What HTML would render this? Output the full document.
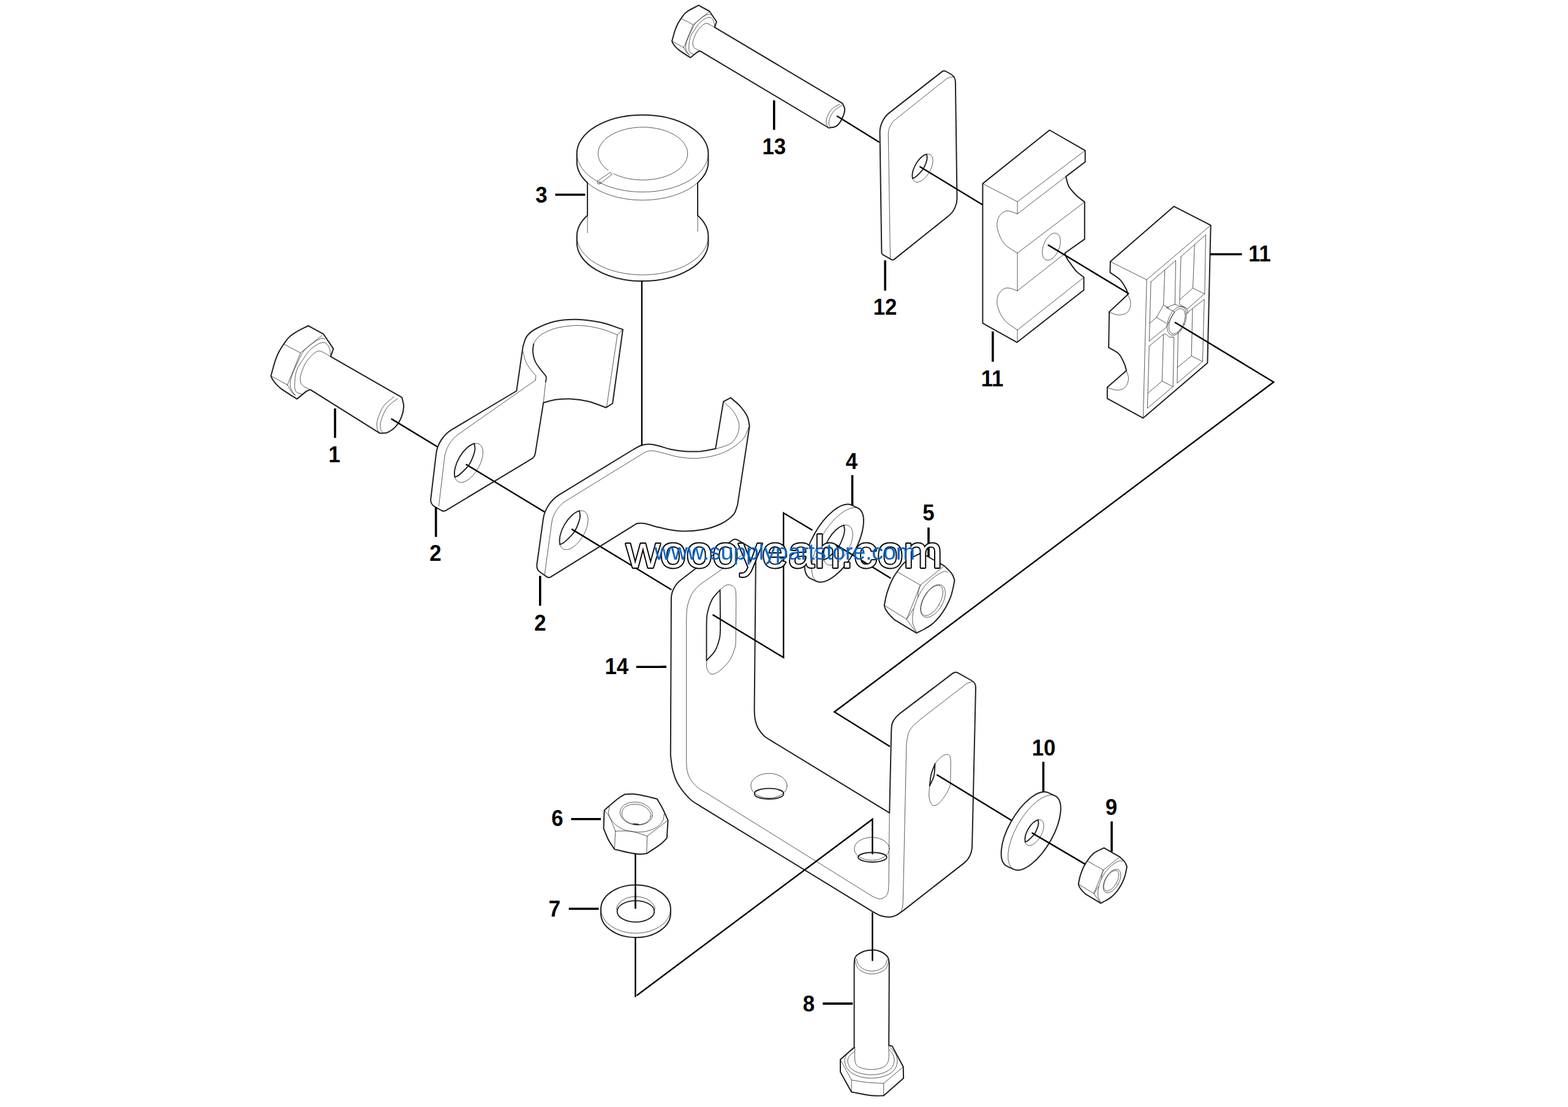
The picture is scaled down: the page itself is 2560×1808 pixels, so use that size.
<!DOCTYPE html>
<html lang="en"><head><meta charset="utf-8"><title>Parts diagram</title>
<style>
html,body{margin:0;padding:0;background:#fff}
body{width:2560px;height:1808px;overflow:hidden}
svg{display:block}
.o{fill:#ffffff;stroke:#231f20;stroke-width:2;stroke-linejoin:round;stroke-linecap:round}
.k{fill:none;stroke:#231f20;stroke-width:1.9;stroke-linejoin:round;stroke-linecap:round}
.t{fill:none;stroke:#231f20;stroke-width:.75;stroke-linejoin:round;stroke-linecap:round}
.c{fill:none;stroke:#000;stroke-width:2.4;stroke-linejoin:miter;stroke-linecap:round}
.l{fill:none;stroke:#000;stroke-width:3.6;stroke-linecap:butt}
.n{font-family:"Liberation Sans",Arial,Helvetica,sans-serif;font-weight:700;font-size:37px;text-anchor:middle;fill:#000}
.w{font-family:"Liberation Sans",Arial,Helvetica,sans-serif;font-size:75px;fill:#fff;stroke:#000;stroke-width:3.8px;stroke-linejoin:round;paint-order:stroke fill}
.u{font-family:"Liberation Sans",Arial,Helvetica,sans-serif;font-size:37.33px;fill:#0563c1}
</style></head>
<body>
<svg width="2560" height="1808" viewBox="0 0 2560 1808">
<rect width="2560" height="1808" fill="#fff"/>
<g id="parts">
<path class="o" d="M941.8 250.7 A107.3 62.9 0 0 1 1156.4 250.7L1156.4 264.3 A107.3 62.9 0 0 1 1139 298.5L1139.1 351.8L1139 351.8 A107.3 62.9 0 0 1 1156.4 386.1L1156.4 396.2 A107.3 62.9 0 0 1 941.8 396.2L941.8 386.1 A107.3 62.9 0 0 1 959.1 351.8L959.1 298.5L959.1 298.5 A107.3 62.9 0 0 1 941.8 264.3Z"/>
<path class="t" d="M1156.4 250.7 A107.3 62.9 0 0 1 941.8 250.7"/>
<path class="t" d="M1139 298.5 A107.3 62.9 0 0 1 959.1 298.5"/>
<path class="t" d="M1156.4 386.1 A107.3 62.9 0 0 1 941.8 386.1"/>
<path class="t" d="M959.1 351.8L959.1 380.2"/>
<path class="t" d="M1139.1 351.8L1139.1 377.7"/>
<path class="t" d="M993 278.4 A73.2 43.2 0 1 1 1002 283.8"/>
<path class="t" d="M996.5 281.5L975.6 295.6L976.1 300.5L979.5 300L979.5 296.3"/>
<path class="t" d="M979.5 300L999.3 284.7"/>
<path class="t" d="M996.5 281.5L999.3 284.7"/>
<path class="o" d="M1143.1 83.3L1138.5 85L1127.4 94.1C1121.6 90.4 1115.6 86.9 1110 82.9C1107.7 81.3 1105.6 79.4 1103.7 77.4C1102 75.6 1100.5 73.8 1099.2 71.8C1098.3 70.4 1097.8 68.8 1097.1 67.2C1098.1 63.4 1099.1 59.6 1100.2 55.7C1100.9 53.4 1101.4 51.1 1102.3 48.8C1103.5 45.5 1104.9 42.2 1106.5 39C1108.1 35.9 1110.2 33 1112.1 30C1113.9 27.5 1115.5 24.8 1117.6 22.6C1119.7 20.5 1122.1 18.6 1124.6 17.1C1129.8 13.9 1135.3 11.5 1140.6 8.7L1158.4 18.5L1169.9 35.5L1166.8 44.6L1375.5 168.9C1376.7 172.2 1379.4 175.2 1379.2 178.7C1378.9 184.3 1376.8 189.8 1374.3 194.7C1372.2 198.9 1369.5 203.2 1365.6 205.8C1362.1 208.2 1357.4 208 1353.3 209L1143.1 83.3Z"/>
<path class="t" d="M1112.1 30L1131.6 40.4L1156.7 19.9"/>
<path class="t" d="M1131.6 40.4L1116.2 77.7"/>
<path class="t" d="M1097.1 67.2L1116.2 77.7"/>
<path class="t" d="M1116.2 77.7C1117.9 80.4 1119.3 83.2 1121.1 85.7C1122.3 87.3 1123.9 88.5 1125.3 89.9"/>
<path class="t" d="M1160.1 24.4C1159 24 1157.8 23.1 1156.7 23.3C1153.7 24 1150.8 25.4 1148.3 27.2C1143.8 30.2 1139.3 33.5 1135.7 37.6C1132.7 41.3 1130.9 45.9 1128.8 50.2C1126.2 55.4 1123.8 60.7 1121.8 66.2C1120.6 69.6 1119.5 73.1 1119.4 76.7C1119.3 79 1120.1 81.4 1121.1 83.6C1122.1 85.9 1123.9 87.8 1125.3 89.9"/>
<path class="t" d="M1166.4 43.2C1166.2 40.9 1166.4 38.5 1165.7 36.2C1165 34 1163.9 31.7 1162.2 30C1161.1 28.8 1159.3 28 1157.7 28.2C1154.8 28.5 1152.1 29.9 1149.7 31.4C1146.6 33.3 1143.8 35.7 1141.3 38.3C1138.6 41.3 1136.5 44.7 1134.4 48.1C1131.9 51.9 1129 55.6 1127.4 59.9C1125.8 64.1 1125.2 68.7 1124.9 73.2C1124.7 77.1 1124.2 81.5 1126 85C1127.2 87.3 1130.6 87.3 1133 88.5"/>
<path class="t" d="M1166.4 44.6C1162.9 42.6 1159.6 40.3 1156 38.7C1154.7 38.1 1153.1 37.9 1151.8 38.3C1149.7 39 1147.8 40.3 1146.2 41.8C1143.1 44.8 1140.1 47.9 1137.8 51.6C1135.7 55 1134.4 58.9 1133 62.7C1132.1 65 1131.2 67.3 1131.2 69.7C1131.2 72.3 1131.3 75.4 1133 77.4C1135.4 80.3 1139.5 81.3 1142.7 83.3"/>
<path class="t" d="M1371.1 170.1C1366.8 172.7 1361.8 174.4 1358.2 178C1354.9 181.4 1352.7 185.9 1350.8 190.3C1349.5 193.6 1348.6 197.3 1348.9 200.9C1349.1 203.7 1351.2 206 1352.3 208.6"/>
<path class="t" d="M1374.3 172.1C1370.4 174.7 1365.9 176.6 1362.7 180C1359.3 183.5 1356.9 187.8 1355 192.3C1353.7 195.5 1353 199.1 1353.3 202.6C1353.5 204.8 1355.3 206.4 1356.3 208.3"/>
<path class="o" d="M506.7 636.4L500.4 638.9L484.8 651.6C476.7 646.4 468.3 641.5 460.4 635.9C457.2 633.7 454.3 631 451.6 628.1C449.3 625.7 447.1 623.1 445.3 620.3C444 618.4 443.3 616.1 442.3 614C443.8 608.6 445.2 603.3 446.7 597.9C447.7 594.6 448.5 591.3 449.7 588.1C451.4 583.5 453.2 578.9 455.5 574.5C457.8 570.1 460.7 566 463.3 561.8C465.9 558.4 468.1 554.6 471.1 551.6C474 548.6 477.3 545.9 480.9 543.8C488.1 539.4 495.8 535.9 503.3 532L528.2 545.7L544.3 569.6L539.9 582.3L656.2 649.1C657.2 654.1 659.2 658.9 659.1 663.9C659 669.8 657.6 675.7 655.4 681.2C653.1 687 649.8 692.6 645.6 697.2C641.8 701.3 637.1 704.5 632 706.6C628.3 708.1 624.1 707.2 620.2 707.6L506.7 636.4Z"/>
<path class="t" d="M463.3 561.8L490.6 576.4L525.8 547.7"/>
<path class="t" d="M490.6 576.4L469.2 628.6"/>
<path class="t" d="M442.3 614L469.2 628.6"/>
<path class="t" d="M469.2 628.6C471.5 632.4 473.4 636.3 476 639.9C477.7 642.1 479.9 643.8 481.9 645.7"/>
<path class="t" d="M530.6 554C529 553.5 527.4 552.1 525.8 552.5C521.6 553.5 517.6 555.5 514.1 557.9C507.8 562.2 501.4 566.7 496.5 572.5C492.2 577.6 489.7 584.1 486.7 590.1C483.2 597.4 479.7 604.8 477 612.5C475.3 617.3 473.8 622.2 473.6 627.2C473.4 630.5 474.6 633.9 476 636.9C477.4 640.1 479.9 642.8 481.9 645.7"/>
<path class="t" d="M539.4 580.3C539.1 577.1 539.4 573.7 538.4 570.6C537.4 567.4 535.9 564.2 533.6 561.8C532 560.2 529.5 559.1 527.2 559.4C523.2 559.8 519.4 561.6 516 563.8C511.7 566.4 507.7 569.8 504.3 573.5C500.5 577.6 497.6 582.5 494.5 587.2C491.1 592.6 487 597.7 484.8 603.8C482.6 609.6 481.7 616 481.4 622.3C481.1 627.8 480.3 634 482.8 638.9C484.5 642.1 489.3 642.1 492.6 643.8"/>
<path class="t" d="M539.4 582.3C534.5 579.5 529.9 576.2 524.8 574C523 573.2 520.8 572.9 518.9 573.5C516 574.4 513.4 576.3 511.1 578.4C506.8 582.5 502.6 587 499.4 592C496.4 596.8 494.5 602.3 492.6 607.7C491.4 610.8 490.2 614.1 490.2 617.4C490.2 621.1 490.2 625.3 492.6 628.1C496 632.2 501.7 633.7 506.2 636.4"/>
<path class="t" d="M643.1 647.9C637.3 653.3 630.3 657.5 625.8 663.9C621 670.9 618.2 679.2 616 687.4C614.8 691.7 615.1 696.5 616 700.9C616.5 703.5 618.8 705.3 620.2 707.6"/>
<path class="t" d="M649.3 650.9C643.5 655.8 636.5 659.5 632 665.7C627.1 672.4 624 680.5 621.7 688.6C620.4 692.8 620.7 697.4 621.7 701.7C622.2 703.9 624.4 705.3 625.8 707.1"/>
<path class="o" d="M1544.2 116.5L1552.2 121C1556.7 123.6 1559.8 128.7 1559.9 133.9L1562.5 324.2C1562.6 334.5 1557.3 345.8 1549.2 352.2L1460.2 423.4C1458.9 424.5 1456.9 424.7 1455.4 423.8L1441.6 416.1C1440.3 415.4 1439.4 413.9 1439.4 412.4L1436.5 216.2C1436.4 204.4 1442.5 191.6 1451.8 184.4L1538.1 116.9C1539.8 115.6 1542.3 115.4 1544.2 116.5Z"/>
<path class="t" d="M1558.3 125.3L1551.1 126.4C1548.9 126.7 1546.3 127.9 1544.5 129.3L1461.6 195.4C1454.7 200.9 1450.1 210.5 1450.3 219.4L1453.5 422.8"/>
<path class="k" d="M1512.9 251.9 A12.8 25.5 29.6 0 0 1490 291.3"/>
<path class="t" d="M1512.9 251.9 A12.8 25.5 29.6 1 1 1490 291.3"/>
<path class="k" d="M1512.9 251.9C1513.2 254 1513.8 256 1513.7 258.1C1513.5 260.6 1512.9 263 1512.1 265.3C1510.7 269.2 1509.2 273.1 1506.9 276.5C1504.7 279.8 1501.7 282.5 1498.9 285.3C1497.3 286.9 1495.6 288.4 1493.7 289.7C1492.6 290.5 1491.3 290.8 1490 291.3"/>
<path class="o" d="M1604.4 299.9L1713.6 212.5L1771.7 245.8L1771.7 264.5L1740.2 288.4C1741.8 293.8 1742.4 299.6 1745.1 304.5C1748.3 310.1 1752.9 314.7 1757.5 319.3C1761.5 323.3 1766.3 326.4 1770.8 329.9L1770.8 390.6L1738.7 413.3C1739.5 415.7 1740 418.4 1741.2 420.7C1743.3 424.6 1745.9 428.2 1748.6 431.7C1751.7 436 1754.7 440.4 1758.4 444.1C1761.8 447.4 1765.8 449.8 1769.5 452.7L1769.5 473.7L1660.3 559.2L1604.4 527.9L1604.4 299.9Z"/>
<path class="t" d="M1604.4 299.9L1661.1 329.4L1771.7 245.8"/>
<path class="t" d="M1661.1 329.4L1661.1 349.2"/>
<path class="t" d="M1661.1 349.2L1740.2 288.4"/>
<path class="t" d="M1661.1 349.2C1654.9 347.7 1648.8 343.5 1642.6 344.7C1637.3 345.8 1632.6 350.4 1630.3 355.3C1627.6 360.9 1627.2 367.8 1628.5 373.8C1630.6 382.7 1634.3 391.5 1640.1 398.5C1645.6 405.1 1654.1 408.3 1661.1 413.3"/>
<path class="t" d="M1661.1 413.3L1770.8 329.9"/>
<path class="t" d="M1661.1 413.3L1661.1 474.9"/>
<path class="t" d="M1661.1 474.9L1738.7 414"/>
<path class="t" d="M1661.1 474.9C1654.9 473.4 1648.8 469.2 1642.6 470.5C1637.3 471.5 1632.6 476.2 1630.3 481.1C1627.6 486.6 1627.1 493.5 1628.5 499.5C1630.5 508 1634.6 516.2 1640.1 523C1645.7 529.7 1654.1 533.6 1661.1 539"/>
<path class="t" d="M1661.1 539L1769.5 453.2"/>
<path class="t" d="M1661.1 539L1661.1 558.7"/>
<path class="t" d="M1728.4 407.7 A12.8 22.2 22 1 1 1704.7 398.1 A12.8 22.2 22 1 1 1728.4 407.7Z"/>
<path class="o" d="M1916.7 337.1L1976.7 367.9L1971.4 592.7L1866.4 682.8L1807.8 650.9L1807.8 632.6L1839.1 605.3C1837.9 601.5 1837.3 597.5 1835.6 593.8C1833.1 588.3 1830.8 582.3 1826.5 577.9C1822 573.2 1815.6 571 1810.1 567.6L1811 509.4L1841.3 480.9C1840.6 478.2 1840.3 475.4 1839.1 472.9C1836.1 467.3 1833.2 461.5 1828.8 456.9C1824.1 452 1817.8 449 1812.4 445.1L1812.8 427.3L1916.7 337.1Z"/>
<path class="t" d="M1812.8 427.3L1872.2 456.9L1976.7 367.9"/>
<path class="t" d="M1872.2 456.9L1866.4 682.8"/>
<path class="t" d="M1841.3 480.9C1842.9 485.1 1845.9 489 1845.9 493.4C1845.9 499 1845.1 505.3 1841.3 509.4C1837.8 513.2 1831.7 514.4 1826.5 514.4C1821.1 514.5 1816.2 511.4 1811 509.9"/>
<path class="t" d="M1839.1 605.3C1840.2 609.8 1842.9 614.3 1842.5 619C1842.1 623.9 1840.3 629.1 1836.8 632.6C1833.6 635.8 1828.7 637.1 1824.2 637.2C1818.7 637.3 1813.6 634.5 1808.3 633.1"/>
<path class="t" d="M1879 460.3L1919.6 425.4L1918.3 496.9L1904.1 502.6L1917.8 509.4L1908.7 525.4L1904.1 534.5L1876.3 557.3L1879 460.3Z"/>
<path class="t" d="M1901.8 440.9L1899.5 498.5L1888.1 518.5L1904.1 527.7"/>
<path class="t" d="M1888.1 518.5L1876.7 528.1"/>
<path class="t" d="M1899.5 498.5L1908.7 503.2"/>
<path class="t" d="M1928.1 419.3L1968.5 383.4L1966.9 479.7L1938.3 504.8L1925.8 496.9L1928.1 419.3Z"/>
<path class="t" d="M1950.4 399.9L1947.5 470.6L1966.9 480.2"/>
<path class="t" d="M1947.5 470.6L1926.2 489.3"/>
<path class="t" d="M1936.1 512.8L1947 503.7L1966.2 488.9L1963.4 590.4L1921.9 625.8L1923.5 542.5L1929.2 536.8"/>
<path class="t" d="M1947 504.4L1945.2 581.3L1963.4 590.4"/>
<path class="t" d="M1945.2 581.3L1922.4 600.2"/>
<path class="t" d="M1876.3 565.3L1899.5 545.9L1904.1 545.9L1908.7 550.5L1916.7 550.5L1915.1 631.5L1873.3 666.9L1876.3 565.3Z"/>
<path class="t" d="M1899.5 547.1L1897.3 622.4L1915.1 631.5"/>
<path class="t" d="M1897.3 622.4L1874.4 641.8"/>
<path class="t" d="M1933.9 529.4 A13.7 24.6 22 1 1 1908.5 519.1 A13.7 24.6 22 1 1 1933.9 529.4Z"/>
<path class="t" d="M1932.3 529 A11.4 21.7 22 1 1 1911.1 520.4 A11.4 21.7 22 1 1 1932.3 529Z"/>
<path class="t" d="M1917.8 496.9C1920.8 498 1923.8 499.3 1926.9 500.3C1929.9 501.2 1933.7 500.5 1936.1 502.6C1938.5 504.8 1938.3 508.7 1939.5 511.7"/>
<path class="o" d="M737.4 701.9L843.3 638.5L853.9 565.3C856 560 856.7 553.9 860.1 549.3C863.9 544.1 869.2 540 874.9 537C885 531.6 895.8 527.2 906.9 524.7C918.2 522.1 929.9 521.4 941.4 521.7C954.7 522 967.9 523.8 980.9 526.6C993.2 529.3 1004.9 534.3 1016.9 538.2L1000.1 659L989.5 665.7C980.1 662.4 970.9 658.2 961.2 655.8C951.5 653.5 941.5 652.2 931.6 651.6C923.4 651.2 915.1 651.7 906.9 652.8C900.2 653.8 893.8 656.1 887.2 657.8L873.9 740.4C873.3 744.1 870.8 747.8 867.6 749.7L727.7 833.9C725.8 835 723.2 835 721.3 834L709.9 827.6C705.3 825.1 702.7 820 703.3 814.9L712.1 740.9C713.9 725.5 724 709.9 737.4 701.9Z"/>
<path class="t" d="M716.4 826.6L725.9 746.4C727.6 732.4 736.4 717.7 747.9 709.6L874.4 620.8"/>
<path class="t" d="M853.9 574C855.2 578.9 855.7 584.1 857.6 588.7C859.8 594 863 598.9 866.3 603.5C868.8 607.1 872 610.1 874.9 613.4L874.4 620.8"/>
<path class="k" d="M871.2 561.6C870.8 565.7 869.6 569.8 870 574C870.4 579.4 871.4 585 873.7 590C876 595.4 880.1 599.9 883.5 604.8C886.1 608.4 890 611.2 891.7 615.4C892.6 617.8 891.2 620.6 890.9 623.3"/>
<path class="t" d="M890.9 623.3L887.2 657.8"/>
<path class="t" d="M871.2 561.6C873.7 557.9 875.3 553.6 878.6 550.5C882.5 546.9 887.3 544.2 892.1 541.9C898.5 539 905 536.3 911.9 535C923.2 532.8 934.8 531.2 946.4 531.6C958 531.9 969.6 534.2 980.9 537C990.2 539.3 999 543.6 1008 546.8L990.3 665.2"/>
<path class="t" d="M1008 546.8L1016.9 538.2"/>
<path class="k" d="M774.4 724.5 A17.7 35.4 29.6 0 0 742.6 779.3"/>
<path class="t" d="M774.4 724.5 A17.7 35.4 29.6 1 1 742.6 779.3"/>
<path class="k" d="M774.4 724.5C774.8 727.4 775.6 730.3 775.5 733.2C775.2 736.7 774.4 740 773.2 743.2C771.3 748.6 769.2 754 766 758.8C763 763.3 758.8 767.1 754.9 771C752.7 773.2 750.3 775.3 747.7 777.1C746.2 778.1 744.3 778.6 742.6 779.3"/>
<path class="o" d="M912.5 808.4L1035.1 733.5C1039.2 731.4 1043.1 728.7 1047.5 727.3C1051.4 726 1055.6 725.5 1059.8 725.6C1064.8 725.7 1069.7 726.9 1074.6 728C1081.2 729.6 1087.6 732.3 1094.3 733.7C1102.4 735.4 1110.7 736.6 1118.9 737.2C1127.1 737.7 1135.4 737.8 1143.6 737.2C1151.9 736.4 1160 734.4 1168.2 733L1181.1 655.8L1192.9 649.6C1197.8 654 1203.3 657.8 1207.7 662.7C1212.4 668 1216.9 673.6 1220 680C1222.4 684.9 1222.5 690.6 1223.7 696L1204 825.4C1201.9 830.3 1201.3 836.2 1197.8 840.2C1192.4 846.4 1185.5 851.3 1178.1 855C1168.8 859.6 1158.8 863 1148.5 864.8C1135.6 867.2 1122.2 868 1109.1 867.3C1097.4 866.7 1086 863.6 1074.6 861.1C1067.1 859.5 1059.9 856.3 1052.4 855C1048.3 854.3 1044.1 854.3 1040.1 855C1038.2 855.3 1036.8 856.9 1035.1 857.9L899 942.3C897.1 943.4 894.6 943.4 892.8 942.1L882.5 935C878.2 932.1 875.9 926.7 876.6 921.6L886.9 847.6C889 832.2 899.3 816.6 912.5 808.4Z"/>
<path class="t" d="M889.2 938.5L900.8 853.5C902.7 839.6 912 825.4 923.9 818.1L1045 743.6C1048.3 741.7 1051.3 739.2 1054.8 737.9C1058 736.7 1061.4 735.9 1064.7 736.2C1071.4 736.7 1077.9 738.8 1084.4 740.4C1092.7 742.3 1100.7 745.3 1109.1 746.5C1118.9 748 1128.8 749.1 1138.7 748.5C1149.5 747.8 1160.3 745.9 1170.7 742.8C1179.4 740.3 1187.8 736.6 1195.4 731.7C1202.7 727 1209.7 721.3 1215.1 714.5C1218.9 709.5 1220 703 1222.5 697.2"/>
<path class="t" d="M1181.8 656.5C1187.1 661.9 1193.5 666.3 1197.8 672.6C1201.9 678.5 1205.3 685.2 1206.5 692.3C1207.4 698 1206.3 704.2 1204 709.5C1201.6 715.2 1198 720.9 1192.9 724.3C1186 729 1177.3 730.1 1169.5 733"/>
<path class="k" d="M946 834.4 A17.7 35.4 29.6 0 0 914.2 889.2"/>
<path class="t" d="M946 834.4 A17.7 35.4 29.6 1 1 914.2 889.2"/>
<path class="k" d="M946 834.4C946.4 837.3 947.2 840.2 947.1 843.1C946.8 846.6 946 849.9 944.8 853.1C942.9 858.5 940.8 863.9 937.6 868.7C934.6 873.2 930.4 877 926.5 880.9C924.3 883.1 921.9 885.2 919.3 887C917.8 888 915.9 888.5 914.2 889.2"/>
<path class="o" d="M1110.6 948L1195.3 882.5C1197.8 880.5 1201.4 880.3 1204.2 881.9L1231.5 897.9C1233.1 898.8 1234.1 900.6 1234 902.3L1231.6 1160C1232 1164.9 1231.8 1169.9 1232.8 1174.8C1233.9 1179.9 1235.3 1185 1237.8 1189.6C1240.3 1194.2 1243.7 1198.4 1247.6 1201.9C1252 1205.9 1257.5 1208.5 1262.4 1211.8L1452.2 1327.6L1455.2 1194.5C1455.6 1190.5 1455.4 1186.3 1456.4 1182.4C1457.3 1179.3 1458.9 1176.3 1460.9 1173.8C1463.3 1170.5 1466.5 1167.9 1469.5 1165.1C1471 1163.7 1472.8 1162.7 1474.4 1161.4L1555.2 1099.9C1557.8 1097.9 1561.4 1097.6 1564.2 1099.2L1586.3 1111.5C1590.4 1113.8 1593.1 1118.4 1593 1123.2L1587.1 1383.5C1586.9 1393.1 1581.7 1403.5 1574.2 1409.4L1474.4 1487.4C1470.7 1489.8 1467.4 1492.9 1463.3 1494.8C1459.9 1496.4 1456.1 1497.6 1452.2 1497.7C1447.7 1497.9 1443 1497.1 1438.7 1495.8C1433.9 1494.2 1429.6 1491.3 1425.1 1489.1L1145.3 1317.8C1139.2 1313.7 1132.2 1310.6 1126.8 1305.4C1119.3 1298.1 1112.6 1289.8 1107.1 1280.8C1103 1274 1100.5 1266.3 1098.5 1258.6C1096.4 1250.6 1096 1242.2 1094.8 1234L1095.9 977.8C1096 966.7 1101.9 954.8 1110.6 948Z"/>
<path class="t" d="M1227.9 895.2L1154 947C1149 950.7 1143.5 953.7 1139.2 958.1C1134.8 962.4 1130.8 967.3 1128.1 972.8C1125 979 1123.2 985.8 1121.9 992.6C1120.7 999 1121.1 1005.7 1120.7 1012.3L1120.7 1246.3C1121.3 1251.2 1121 1256.3 1122.4 1261.1C1123.9 1266.3 1126.2 1271.4 1129.3 1275.9C1132.7 1280.6 1137.1 1284.6 1141.6 1288.2C1145.4 1291.2 1149.8 1293.1 1154 1295.6L1425.1 1464.4C1429.2 1465.7 1433.2 1468.8 1437.5 1468.1C1441.8 1467.5 1446.4 1464.6 1448.5 1460.8C1451.3 1455.7 1450.2 1449.2 1451 1443.5L1452.2 1327.6"/>
<path class="t" d="M1586.8 1113.6L1578.9 1116L1504 1173.8C1499.9 1177.5 1495.5 1180.8 1491.7 1184.8C1488.9 1187.8 1486.1 1191 1484.3 1194.7C1482.5 1198.5 1481.9 1202.9 1481.1 1207C1480.4 1210.2 1480.3 1213.5 1479.9 1216.7L1474.4 1470.6C1474 1474.7 1474.1 1478.9 1473.2 1482.9C1472.6 1485.6 1471.1 1487.9 1470 1490.3"/>
<path class="t" d="M1154 1078.8C1154 1083 1152.7 1087.3 1154 1091.2C1155.3 1095.1 1157.3 1100.2 1161.4 1101C1166.1 1102 1171 1098.5 1174.9 1095.6C1181.1 1091 1186.7 1085.3 1190.9 1078.8C1195.3 1072.1 1198.1 1064.4 1200.3 1056.7C1201.6 1051.9 1201 1046.8 1201.3 1041.9L1201.8 977.8C1201 972 1202.5 965.5 1199.6 960.5C1197.5 957 1192.6 954.7 1188.5 955.1C1183.7 955.5 1180.3 960 1176.1 962.5"/>
<path class="k" d="M1175.6 963.5C1171.3 968.7 1165.8 973 1162.6 979C1158.7 986.3 1156.4 994.4 1154.7 1002.4C1153.3 1008.9 1153.9 1015.6 1153.5 1022.1L1153.5 1078.8C1158.1 1073.5 1163.9 1069 1167.5 1062.8C1171.2 1056.4 1173.2 1049.1 1174.9 1041.9C1176.1 1037.1 1175.7 1032 1176.1 1027.1L1175.6 963.5Z"/>
<path class="t" d="M1285.1 1283.3 A29.6 20.2 0 1 1 1225.9 1283.3 A29.6 20.2 0 1 1 1285.1 1283.3Z"/>
<path class="k" d="M1279.2 1296.3 A23.7 8.1 0 1 1 1231.9 1296.3 A23.7 8.1 0 1 1 1279.2 1296.3Z"/>
<path class="t" d="M1452 1386.3 A28.6 18.7 0 1 1 1394.8 1386.3 A28.6 18.7 0 1 1 1452 1386.3Z"/>
<path class="k" d="M1447.8 1400.1 A23.4 7.9 0 1 1 1401 1400.1 A23.4 7.9 0 1 1 1447.8 1400.1Z"/>
<path class="t" d="M1517.7 1283.7C1517.6 1290.6 1515.8 1297.8 1517.3 1304.6C1518.2 1309 1520.2 1315.7 1524.7 1315.7C1530.8 1315.7 1535.5 1309.3 1539.4 1304.6C1544.3 1298.8 1547.8 1291.9 1550.5 1284.9C1552 1281 1551.4 1276.7 1551.8 1272.6L1552.3 1245.4C1551.7 1241.7 1552.6 1237.5 1550.5 1234.4C1549.3 1232.4 1546.1 1231.7 1543.9 1232.4C1539.8 1233.5 1536.5 1236.5 1533.3 1239.3C1530.7 1241.5 1528.8 1244.5 1526.6 1247.2"/>
<path class="k" d="M1526.6 1247.2C1524.5 1253.2 1521.7 1259 1520.2 1265.2C1518.7 1271.2 1518.6 1277.5 1517.7 1283.7C1520.1 1278.3 1523.3 1273.3 1524.7 1267.6C1526.3 1261 1526 1254 1526.6 1247.2Z"/>
<path class="o" d="M1644.2 1414.8 A29.7 68.8 30.2 0 1 1711.2 1294.6 L1722.2 1299.6 A29.7 68.8 30.2 0 1 1655.2 1419.8Z"/>
<path class="t" d="M1655.2 1419.8 A29.7 68.8 30.2 0 1 1722.2 1299.6"/>
<path class="k" d="M1694.8 1339.1 A11.7 23.4 29.6 0 0 1673.8 1375.2"/>
<path class="t" d="M1694.8 1339.1 A11.7 23.4 29.6 1 1 1673.8 1375.2"/>
<path class="k" d="M1694.8 1339.1C1695 1341 1695.6 1342.9 1695.5 1344.8C1695.3 1347.1 1694.8 1349.3 1694 1351.4C1692.7 1354.9 1691.3 1358.5 1689.2 1361.7C1687.3 1364.7 1684.5 1367.1 1681.9 1369.7C1680.5 1371.2 1678.9 1372.6 1677.2 1373.7C1676.1 1374.4 1674.9 1374.7 1673.8 1375.2"/>
<path class="o" d="M1322.7 944.6 A30.2 68.8 30.2 0 1 1389.7 824.6 L1401 829.8 A30.2 68.8 30.2 0 1 1334 949.8Z"/>
<path class="t" d="M1334 949.8 A30.2 68.8 30.2 0 1 1401 829.8"/>
<path class="k" d="M1377.8 857.8 A18.3 36.4 29.6 0 0 1345 914.2"/>
<path class="t" d="M1377.8 857.8 A18.3 36.4 29.6 1 1 1345 914.2"/>
<path class="k" d="M1377.8 857.8C1378.2 860.8 1379.1 863.8 1378.9 866.8C1378.6 870.3 1377.8 873.8 1376.6 877C1374.5 882.6 1372.4 888.1 1369.2 893C1366 897.8 1361.7 901.6 1357.7 905.6C1355.4 907.9 1353 910.1 1350.3 911.9C1348.7 913 1346.8 913.5 1345 914.2"/>
<path class="o" d="M1802.5 1384.8L1828.4 1399.6C1831.2 1402.6 1834.5 1405.1 1836.9 1408.5C1838.4 1410.5 1838.9 1413.2 1839.9 1415.5C1839.4 1418.1 1839 1420.7 1838.4 1423.3C1837.5 1427 1836.8 1430.8 1835.4 1434.4C1834 1438.2 1832.3 1441.9 1830.3 1445.5C1828.1 1449.3 1825.7 1453.1 1822.9 1456.6C1820.2 1459.8 1817.2 1462.8 1814 1465.4C1811.3 1467.6 1808.1 1469.3 1805.1 1471C1802.5 1472.5 1799.7 1473.7 1797 1475.1L1771.8 1459.9C1769.8 1457.8 1767.7 1455.8 1765.9 1453.6C1764.5 1452 1763.2 1450.3 1762.2 1448.4C1761.5 1447 1761.2 1445.5 1760.7 1444C1761.5 1440.3 1762 1436.5 1762.9 1432.9C1763.9 1429.1 1765.2 1425.4 1766.6 1421.8C1767.9 1418.5 1769.4 1415.3 1771.1 1412.2C1772.3 1409.8 1774 1407.7 1775.5 1405.5C1777 1403.5 1778.3 1401.4 1779.9 1399.6C1782 1397.2 1784 1394.7 1786.6 1392.9C1791.6 1389.7 1797.2 1387.5 1802.5 1384.8Z"/>
<path class="t" d="M1775.5 1406.3L1801.4 1421L1827.3 1400.3"/>
<path class="t" d="M1801.4 1421L1785.9 1459.5"/>
<path class="t" d="M1761.5 1444.4L1785.9 1459.5"/>
<path class="t" d="M1785.9 1459.5L1797 1475.1"/>
<path class="t" d="M1832.5 1407C1831.2 1406.5 1830 1405.1 1828.8 1405.5C1824.8 1406.7 1821.1 1409 1817.7 1411.4C1813.6 1414.4 1809.8 1417.9 1806.6 1421.8C1803.3 1425.8 1800.6 1430.4 1798.4 1435.1C1796.1 1440.3 1794.3 1445.8 1793.3 1451.4C1792.4 1455.7 1792.2 1460.3 1792.9 1464.7C1793.4 1467.9 1795.6 1470.6 1797 1473.6"/>
<path class="t" d="M1801.4 1421C1800.7 1423.3 1799.7 1425.4 1799.2 1427.7C1798.7 1430.1 1798.7 1432.6 1798.4 1435.1"/>
<path class="t" d="M1785.9 1459.5C1787.3 1457.3 1788.9 1455.1 1790.3 1452.9C1791.4 1451.2 1792.3 1449.4 1793.3 1447.7"/>
<path class="t" d="M1825.1 1444.5 A11.1 20.3 30 1 1 1805.9 1433.4 A11.1 20.3 30 1 1 1825.1 1444.5Z"/>
<path class="t" d="M1822.4 1443.1 A9.2 18.5 30 1 1 1806.3 1433.8 A9.2 18.5 30 1 1 1822.4 1443.1Z"/>
<path class="o" d="M1504.4 903L1541.9 924.4C1546 928.7 1550.8 932.5 1554.2 937.3C1556.4 940.3 1557.1 944.1 1558.5 947.5C1557.8 951.3 1557.3 955.1 1556.4 958.8C1555.1 964.2 1554 969.7 1552.1 974.9C1550.1 980.4 1547.5 985.8 1544.6 991C1541.4 996.6 1537.9 1002.1 1533.9 1007C1530 1011.8 1525.7 1016.1 1521 1019.9C1517.1 1023.1 1512.5 1025.5 1508.1 1028C1504.3 1030.1 1500.2 1031.9 1496.3 1033.9L1459.8 1011.9C1457 1008.8 1453.9 1006 1451.3 1002.8C1449.3 1000.4 1447.4 998 1445.9 995.2C1444.8 993.3 1444.5 991 1443.7 988.8C1444.8 983.4 1445.6 978 1447 972.7C1448.4 967.3 1450.3 961.9 1452.3 956.6C1454.2 951.9 1456.3 947.2 1458.8 942.7C1460.6 939.3 1463.1 936.2 1465.2 933C1467.3 930.2 1469.3 927.1 1471.6 924.4C1474.7 921 1477.5 917.3 1481.3 914.8C1488.5 910.1 1496.7 906.9 1504.4 903Z"/>
<path class="t" d="M1465.2 934.1L1502.7 955.6L1540.3 925.5"/>
<path class="t" d="M1502.7 955.6L1480.2 1011.3"/>
<path class="t" d="M1444.8 989.3L1480.2 1011.3"/>
<path class="t" d="M1480.2 1011.3L1496.3 1033.9"/>
<path class="t" d="M1547.8 935.2C1546 934.5 1544.3 932.5 1542.4 933C1536.6 934.8 1531.3 938 1526.3 941.6C1520.4 946 1514.9 950.9 1510.3 956.6C1505.5 962.5 1501.6 969.1 1498.5 975.9C1495.1 983.5 1492.5 991.4 1490.9 999.5C1489.8 1005.9 1489.4 1012.5 1490.4 1018.8C1491.2 1023.5 1494.3 1027.4 1496.3 1031.7"/>
<path class="t" d="M1502.7 955.6C1501.7 958.8 1500.2 961.9 1499.5 965.2C1498.8 968.7 1498.8 972.4 1498.5 975.9"/>
<path class="t" d="M1480.2 1011.3C1482.4 1008.1 1484.6 1005 1486.7 1001.7C1488.2 999.2 1489.5 996.7 1490.9 994.2"/>
<path class="t" d="M1537.1 989.6 A16.1 29.5 30 1 1 1509.2 973.5 A16.1 29.5 30 1 1 1537.1 989.6Z"/>
<path class="t" d="M1533.1 987.5 A13.4 26.8 30 1 1 1509.9 974.1 A13.4 26.8 30 1 1 1533.1 987.5Z"/>
<path class="o" d="M1020.3 1297.2C1025 1297.1 1029.7 1296.4 1034.4 1296.8C1041.4 1297.5 1048.2 1299.1 1055.1 1300.5C1061.1 1301.8 1066.9 1303.5 1072.9 1305C1075.6 1309.7 1078.5 1314.2 1081 1319C1084.5 1325.8 1087.4 1332.9 1090.6 1339.8L1088.8 1368.6C1086.2 1371.3 1083.8 1374.3 1081 1376.8C1078.2 1379.2 1075.2 1381.3 1072.1 1383.4C1066.8 1387.1 1061.3 1390.6 1055.8 1394.1C1051.6 1394.4 1047.5 1395.2 1043.3 1395C1038.5 1394.8 1033.8 1394 1029.2 1393C1020.5 1391.3 1011.9 1389.1 1003.3 1387.1C1000.1 1382.2 996.5 1377.5 993.7 1372.3C991.6 1368.6 990.2 1364.4 988.5 1360.5C987.5 1358 986.5 1355.5 985.5 1353.1L986.6 1323.5C992 1318.8 997.1 1314 1002.6 1309.4C1005.7 1306.8 1008.8 1304.3 1012.2 1302C1014.8 1300.2 1017.6 1298.8 1020.3 1297.2Z"/>
<path class="t" d="M987.4 1324.2C989.7 1327.2 992.5 1329.9 994.4 1333.1C996.5 1336.6 998 1340.4 999.6 1344.2C1001.5 1348.6 1003.1 1353.1 1004.8 1357.5"/>
<path class="t" d="M1004.8 1357.5C1011.7 1357.4 1018.6 1356.8 1025.5 1357.1C1029.2 1357.3 1033 1358 1036.6 1359C1043.4 1360.9 1049.9 1363.4 1056.6 1365.7"/>
<path class="t" d="M1056.6 1365.7L1089.9 1340.1"/>
<path class="t" d="M1004.8 1357.5L1003.3 1386.4"/>
<path class="t" d="M1056.6 1365.7L1055.8 1393.8"/>
<path class="t" d="M995.2 1317.6C994.7 1321.5 992.9 1325.5 993.7 1329.4C994.5 1333.7 996.8 1337.8 999.6 1341.2C1002.9 1345.3 1007 1348.9 1011.4 1351.6C1015.7 1354.2 1020.6 1356 1025.5 1357.1C1031.5 1358.5 1037.8 1359.1 1044 1359C1049 1358.9 1054 1358.2 1058.8 1356.8C1064 1355.2 1069.2 1353.3 1073.6 1350.1C1077.3 1347.5 1080.4 1343.8 1082.5 1339.8C1084.1 1336.6 1083.7 1332.9 1084.3 1329.4"/>
<path class="t" d="M1065.2 1332.4 A26.6 18.5 8 1 1 1012.4 1325 A26.6 18.5 8 1 1 1065.2 1332.4Z"/>
<path class="t" d="M1062.3 1333.4 A23.7 15.9 8 1 1 1015.4 1326.8 A23.7 15.9 8 1 1 1062.3 1333.4Z"/>
<path class="k" d="M1034.4 1345.8L1042.1 1346.4"/>
<path class="o" d="M1094.9 1491.8 A56.9 39.4 0 0 1 981 1491.8 L981 1484.8 A56.9 39.4 0 0 1 1094.9 1484.8Z"/>
<path class="t" d="M1094.9 1484.8 A56.9 39.4 0 0 1 981 1484.8"/>
<path class="t" d="M1006.4 1484.8 A31.6 21.7 0 0 1 1069.5 1484.8"/>
<path class="k" d="M1068.3 1488.5 A30.3 17.3 0 1 1 1007.6 1488.5 A30.3 17.3 0 1 1 1068.3 1488.5Z"/>
<path class="c" d="M1037.4 1531.5 L1037.4 1627.5"/>
<path class="o" d="M1394.6 1710.4L1372 1730.6L1372 1750.8L1390.2 1783.6C1401 1785.4 1411.7 1788 1422.5 1789.2C1429.2 1790 1436 1789.5 1442.7 1789.6L1475.1 1760.9L1474.7 1742.3L1456.5 1708.4L1451.2 1707.4L1451.8 1573C1451.2 1569.9 1451.3 1566.6 1449.8 1563.9C1448.2 1561 1445.5 1558.7 1442.7 1556.8C1439.7 1554.7 1436.2 1553.2 1432.6 1552.4C1429.4 1551.5 1425.9 1551.5 1422.5 1551.7C1418.4 1552 1414.3 1552.4 1410.4 1553.8C1406.4 1555.2 1402.6 1557.3 1399.3 1559.8C1397.7 1561.1 1396.5 1563 1395.8 1564.9C1394.9 1567.5 1395 1570.3 1394.6 1573L1394.6 1710.4Z"/>
<path class="t" d="M1372 1730.6L1390.2 1764C1398.9 1765.3 1407.6 1767.1 1416.5 1768C1425.2 1768.9 1434 1768.9 1442.7 1769.4L1474.7 1742.3"/>
<path class="t" d="M1390.2 1764L1390.2 1783.6"/>
<path class="t" d="M1442.7 1769.4L1442.7 1789.6"/>
<path class="t" d="M1394.6 1712.4C1390.5 1715.8 1385.2 1718.1 1382.1 1722.5C1379.7 1725.9 1378.4 1730.5 1379.1 1734.6C1379.9 1739.9 1382.4 1745.1 1386.1 1748.8C1390.5 1753.2 1396.4 1755.9 1402.3 1757.9C1408.8 1760 1415.7 1760.9 1422.5 1760.9C1429.3 1760.9 1436.3 1760 1442.7 1757.9C1448.6 1755.9 1454.6 1753.3 1458.9 1748.8C1462.4 1745.1 1464.4 1739.7 1465 1734.6C1465.5 1729.9 1464.1 1724.8 1461.9 1720.5C1459.9 1716.4 1455.9 1713.8 1452.8 1710.4"/>
<path class="t" d="M1394.6 1717.5C1391.8 1720.2 1388.2 1722.2 1386.1 1725.6C1384.5 1728.2 1383.5 1731.6 1384.1 1734.6C1385 1738.8 1387 1742.9 1390.2 1745.8C1394.1 1749.3 1399.3 1751.4 1404.3 1752.8C1410.2 1754.6 1416.4 1755.3 1422.5 1755.3C1428.6 1755.3 1434.9 1754.7 1440.7 1752.8C1445.9 1751.2 1451 1748.6 1454.9 1744.8C1457.7 1741.9 1459.4 1737.7 1459.9 1733.6C1460.4 1729.9 1459.4 1726 1457.9 1722.5C1456.6 1719.4 1453.8 1717.1 1451.8 1714.4"/>
<path class="t" d="M1395.8 1710.4C1396 1718.5 1394.7 1726.7 1396.2 1734.6C1396.9 1738 1399.3 1741.3 1402.3 1742.7C1408.5 1745.6 1415.7 1746.8 1422.5 1746.8C1429.4 1746.8 1436.6 1745.8 1442.7 1742.7C1446.5 1740.8 1449.4 1736.7 1450.4 1732.6C1452.3 1724.8 1450.7 1716.5 1450.8 1708.4"/>
<path class="t" d="M1396.2 1568.9C1397.3 1572.3 1397.3 1576.1 1399.3 1579C1401.5 1582.4 1404.8 1585.3 1408.4 1587.1C1412.7 1589.3 1417.7 1590.6 1422.5 1590.8C1427.3 1590.9 1432.2 1589.9 1436.7 1588.1C1440.5 1586.6 1444.3 1584.3 1446.8 1581.1C1449.2 1577.9 1449.5 1573.6 1450.8 1569.9"/>
<path class="t" d="M1398.3 1565.9C1399.3 1568.9 1399.5 1572.4 1401.3 1575C1403.6 1578.3 1406.8 1581.2 1410.4 1583.1C1414.1 1585 1418.4 1586 1422.5 1586.1C1427 1586.2 1431.5 1585.2 1435.7 1583.5C1439.1 1582.1 1442.4 1579.9 1444.8 1577C1447 1574.2 1447.4 1570.3 1448.8 1566.9"/>
</g>
<g id="lines">
<path class="l" d="M906.5 318 L955.4 318"/>
<text class="n" transform="translate(883.8 330.9) scale(.94 1)">3</text>
<path class="c" d="M1047.9 459.5 L1047.9 726.8"/>
<path class="l" d="M1263.8 163.9 L1263.8 212"/>
<text class="n" transform="translate(1263.8 251.6) scale(.94 1)">13</text>
<path class="c" d="M1366.9 189.8 L1434.7 231.7"/>
<path class="l" d="M547 667.1 L547 715.2"/>
<text class="n" transform="translate(546 755.3) scale(.94 1)">1</text>
<path class="c" d="M639.4 684.4 L713.4 729.3"/>
<path class="l" d="M1445.1 425.3 L1445.1 474.6"/>
<text class="n" transform="translate(1445 514) scale(.94 1)">12</text>
<path class="c" d="M1502.3 272.4 L1603.4 334.1"/>
<path class="l" d="M1620.9 541.4 L1620.9 590.8"/>
<text class="n" transform="translate(1620 631.2) scale(.94 1)">11</text>
<path class="c" d="M1711.6 400.4 L1842.3 479.3"/>
<path class="l" d="M1976.1 415.2 L2027.6 415.2"/>
<text class="n" transform="translate(2056.5 427) scale(.94 1)">11</text>
<path class="c" d="M1918.7 526.7 L2079.4 624 L1362.3 1162.7 L1452.2 1218.7"/>
<path class="l" d="M711.7 828.3 L711.7 876.9"/>
<text class="n" transform="translate(711 916) scale(.94 1)">2</text>
<path class="c" d="M761.5 758.8 L888.4 835.8"/>
<path class="l" d="M881.8 940.5 L881.8 989.3"/>
<text class="n" transform="translate(881.8 1029.5) scale(.94 1)">2</text>
<path class="c" d="M934.1 864.6 L1095.5 962.7"/>
<path class="l" d="M1080 1089.2 L1087.9 1089.2"/>
<path class="l" d="M1038.8 1089.2 L1087.4 1089.2"/>
<text class="n" transform="translate(1006.8 1101.4) scale(.94 1)">14</text>
<path class="c" d="M1164.3 1004.4 L1279.2 1073.9 L1279.2 837.8 L1325.6 865.5"/>
<path class="c" d="M1530.1 1265.7 L1651.6 1339.9"/>
<path class="l" d="M1703.4 1244.2 L1703.4 1293.5"/>
<text class="n" transform="translate(1704 1233.8) scale(.94 1)">10</text>
<path class="c" d="M1685.4 1360.6 L1771.2 1411.1"/>
<path class="l" d="M1391.5 776 L1391.5 825"/>
<text class="n" transform="translate(1390.5 766) scale(.94 1)">4</text>
<path class="c" d="M1365.7 890.2 L1453.6 944.1"/>
<path class="l" d="M1815 1341.6 L1815 1390.9"/>
<text class="n" transform="translate(1814.5 1330.7) scale(.94 1)">9</text>
<path class="l" d="M1516 861.6 L1516 910.2"/>
<text class="n" transform="translate(1516 850) scale(.94 1)">5</text>
<path class="l" d="M932.4 1337.7 L981 1337.7"/>
<text class="n" transform="translate(909.8 1349.4) scale(.94 1)">6</text>
<path class="c" d="M1037.4 1395.5 L1037.4 1483.1"/>
<path class="c" d="M1037.4 1461 L1037.4 1483.1"/>
<path class="l" d="M928.7 1484.3 L977.6 1484.3"/>
<text class="n" transform="translate(905.3 1496.9) scale(.94 1)">7</text>
<path class="c" d="M1040.4 1625.2 L1424.4 1338 L1424.4 1394.2"/>
<path class="c" d="M1424.4 1491.3 L1424.4 1568.5"/>
<path class="l" d="M1343.3 1639.1 L1392.2 1639.1"/>
<text class="n" transform="translate(1320.5 1652) scale(.94 1)">8</text>
</g>
<text class="w" x="1022" y="926.6" textLength="516.8" lengthAdjust="spacingAndGlyphs">woooyeah.com</text>
<text class="u" x="1068.6" y="913.8">www.supplypartstore.com</text>

</svg>
</body></html>
